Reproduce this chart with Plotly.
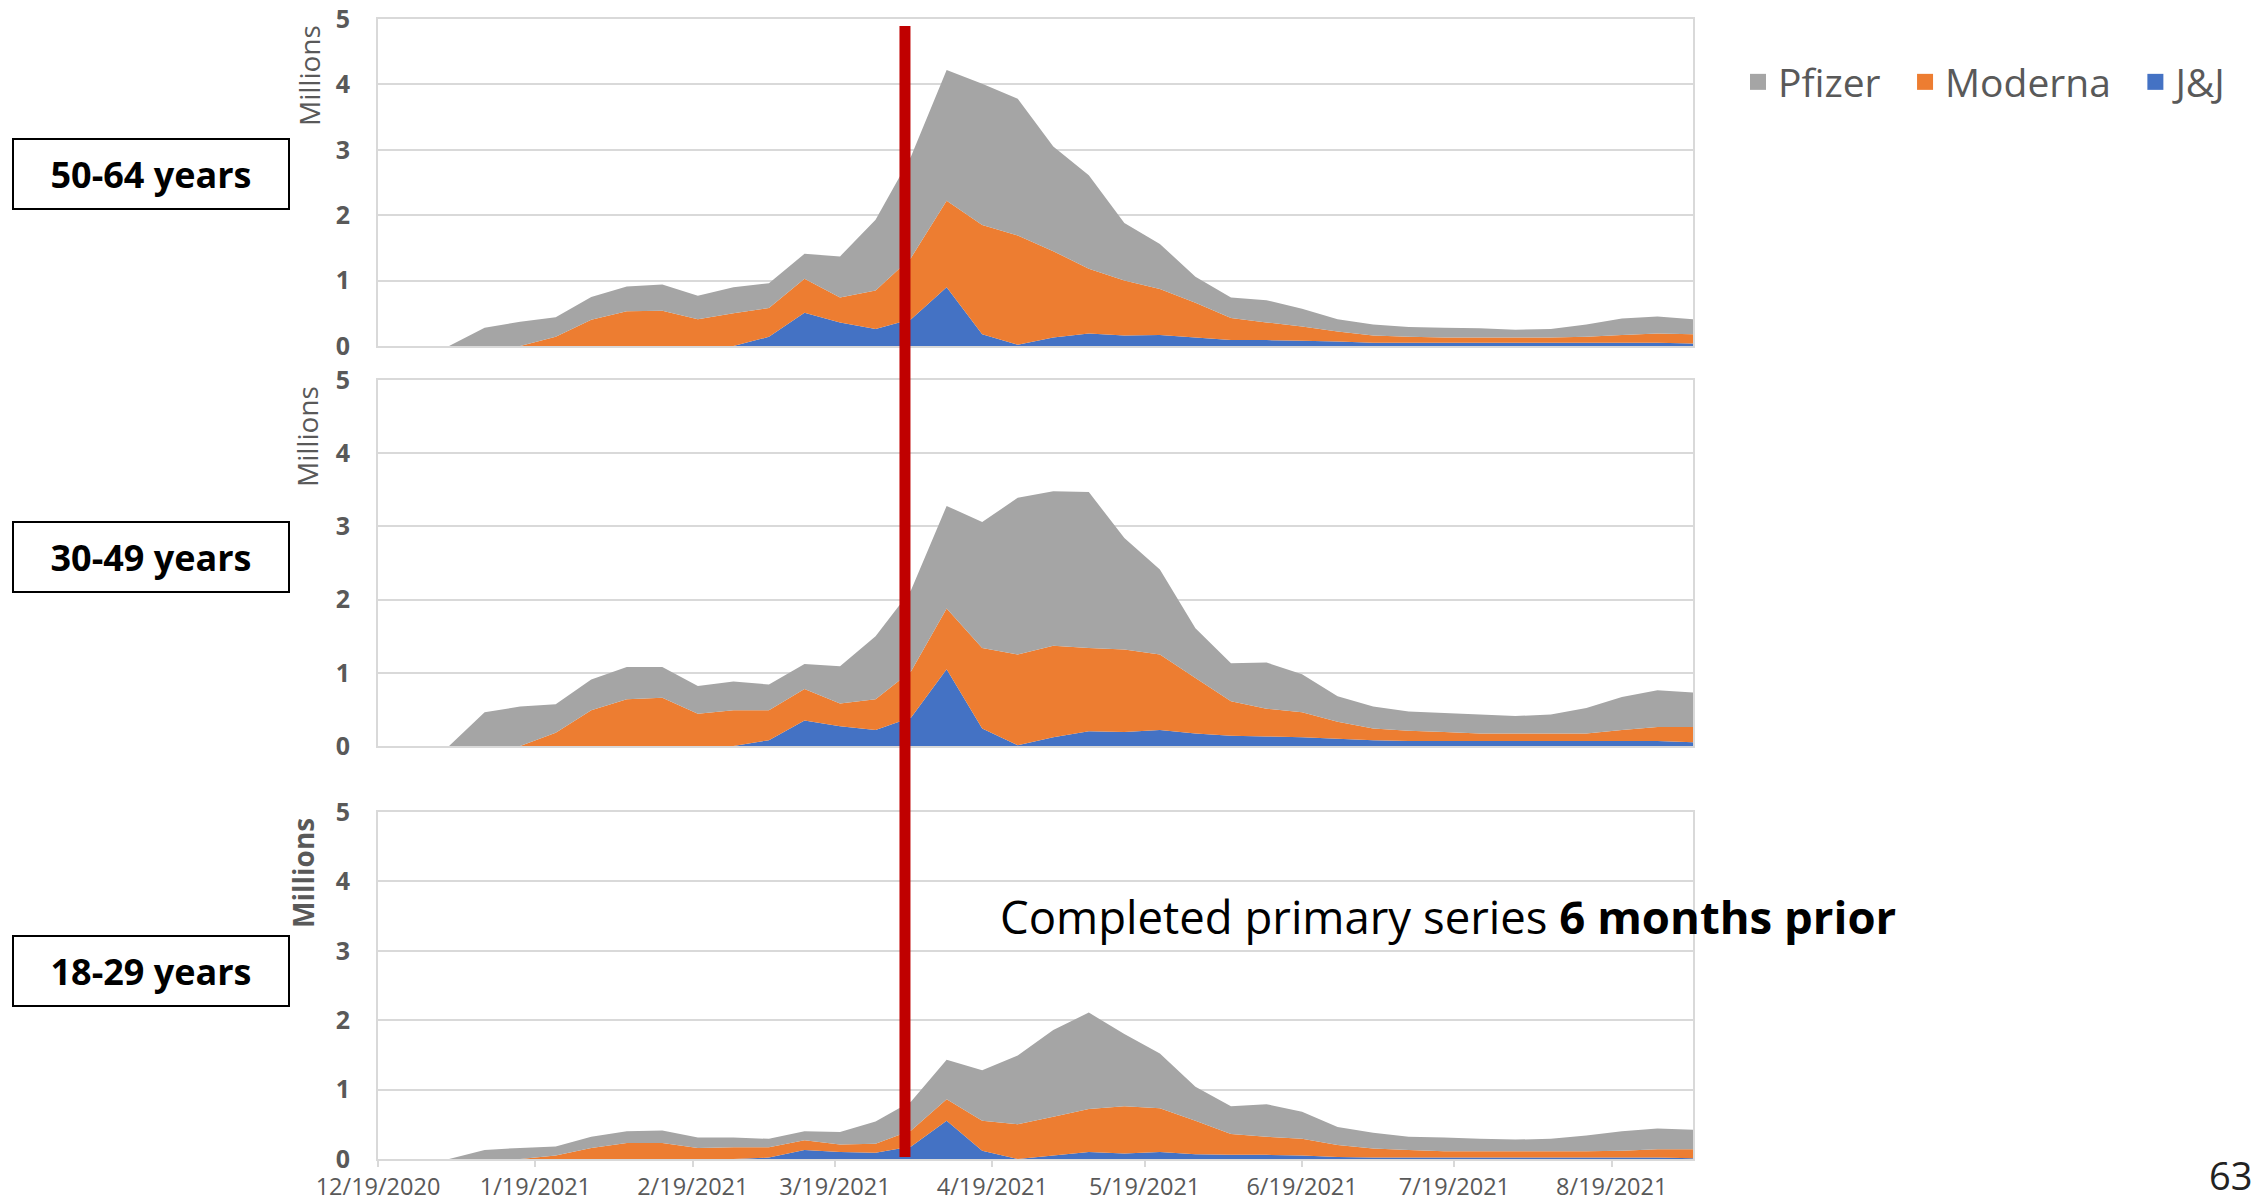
import plotly.graph_objects as go

# ---------------- data ----------------
dates = ["2020-12-19", "2020-12-26", "2021-01-02", "2021-01-09", "2021-01-16", "2021-01-23",
         "2021-01-30", "2021-02-06", "2021-02-13", "2021-02-20", "2021-02-27", "2021-03-06",
         "2021-03-13", "2021-03-20", "2021-03-27", "2021-04-03", "2021-04-10", "2021-04-17",
         "2021-04-24", "2021-05-01", "2021-05-08", "2021-05-15", "2021-05-22", "2021-05-29",
         "2021-06-05", "2021-06-12", "2021-06-19", "2021-06-26", "2021-07-03", "2021-07-10",
         "2021-07-17", "2021-07-24", "2021-07-31", "2021-08-07", "2021-08-14", "2021-08-21",
         "2021-08-28", "2021-09-04"]

# 50-64 years (millions)
pfizer_50_64 = [0, 0, 0, 0.28, 0.37, 0.30, 0.35, 0.38, 0.40, 0.36, 0.40, 0.38, 0.38, 0.63, 1.08,
                1.55, 2.00, 2.16, 2.09, 1.60, 1.43, 0.88, 0.69, 0.40, 0.31, 0.34, 0.27, 0.19,
                0.17, 0.15, 0.15, 0.14, 0.12, 0.13, 0.19, 0.25, 0.26, 0.23]
moderna_50_64 = [0, 0, 0, 0, 0, 0.14, 0.40, 0.53, 0.54, 0.41, 0.50, 0.44, 0.52, 0.38, 0.59,
                 0.94, 1.32, 1.67, 1.67, 1.32, 0.99, 0.84, 0.70, 0.53, 0.34, 0.27, 0.22, 0.15,
                 0.11, 0.09, 0.08, 0.08, 0.08, 0.08, 0.09, 0.12, 0.14, 0.14]
jj_50_64 = [0, 0, 0, 0, 0, 0, 0, 0, 0, 0, 0, 0.14, 0.51, 0.36, 0.26, 0.41, 0.90, 0.18, 0.02,
            0.13, 0.19, 0.16, 0.17, 0.13, 0.09, 0.09, 0.08, 0.07, 0.05, 0.05, 0.05, 0.05, 0.05,
            0.05, 0.05, 0.05, 0.05, 0.04]

# 30-49 years (millions)
pfizer_30_49 = [0, 0, 0, 0.46, 0.54, 0.39, 0.42, 0.44, 0.42, 0.38, 0.39, 0.35, 0.34, 0.51, 0.86,
                1.11, 1.40, 1.72, 2.14, 2.11, 2.13, 1.52, 1.16, 0.68, 0.52, 0.63, 0.52, 0.35,
                0.30, 0.26, 0.26, 0.26, 0.24, 0.26, 0.35, 0.45, 0.50, 0.47]
moderna_30_49 = [0, 0, 0, 0, 0, 0.18, 0.49, 0.64, 0.66, 0.44, 0.49, 0.41, 0.43, 0.31, 0.42,
                 0.63, 0.83, 1.10, 1.24, 1.25, 1.14, 1.13, 1.03, 0.76, 0.47, 0.38, 0.34, 0.23,
                 0.16, 0.14, 0.12, 0.10, 0.10, 0.10, 0.10, 0.15, 0.19, 0.21]
jj_30_49 = [0, 0, 0, 0, 0, 0, 0, 0, 0, 0, 0, 0.08, 0.35, 0.27, 0.22, 0.39, 1.05, 0.24, 0.01,
            0.12, 0.20, 0.19, 0.22, 0.17, 0.14, 0.13, 0.12, 0.10, 0.08, 0.07, 0.07, 0.07, 0.07,
            0.07, 0.07, 0.07, 0.07, 0.05]

# 18-29 years (millions)
pfizer_18_29 = [0, 0, 0, 0.13, 0.16, 0.13, 0.16, 0.17, 0.18, 0.15, 0.14, 0.12, 0.13, 0.18, 0.32,
                0.42, 0.57, 0.73, 0.99, 1.25, 1.39, 1.04, 0.79, 0.49, 0.40, 0.47, 0.39, 0.26,
                0.23, 0.19, 0.20, 0.18, 0.17, 0.18, 0.23, 0.28, 0.30, 0.28]
moderna_18_29 = [0, 0, 0, 0, 0, 0.05, 0.16, 0.23, 0.23, 0.16, 0.17, 0.15, 0.14, 0.11, 0.13,
                 0.23, 0.31, 0.43, 0.50, 0.56, 0.62, 0.68, 0.63, 0.48, 0.30, 0.26, 0.24, 0.17,
                 0.13, 0.11, 0.09, 0.09, 0.09, 0.09, 0.09, 0.10, 0.12, 0.13]
jj_18_29 = [0, 0, 0, 0, 0, 0, 0, 0, 0, 0, 0, 0.02, 0.13, 0.10, 0.09, 0.18, 0.55, 0.12, 0.0,
            0.05, 0.10, 0.08, 0.10, 0.07, 0.06, 0.06, 0.05, 0.03, 0.02, 0.02, 0.02, 0.02, 0.02,
            0.02, 0.02, 0.02, 0.02, 0.01]

panel_labels = ["50-64 years", "30-49 years", "18-29 years"]
series_names = ["Pfizer", "Moderna", "J&J"]
tick_dates = ["2020-12-19", "2021-01-19", "2021-02-19", "2021-03-19", "2021-04-19",
              "2021-05-19", "2021-06-19", "2021-07-19", "2021-08-19"]
tick_text = ["12/19/2020", "1/19/2021", "2/19/2021", "3/19/2021", "4/19/2021",
             "5/19/2021", "6/19/2021", "7/19/2021", "8/19/2021"]
y_ticks = [0, 1, 2, 3, 4, 5]
cutoff_date = "2021-04-01 19:00"

# ---------------- styles / geometry (screen pixels) ----------------
FONT = "Open Sans"
COLORS = {"Pfizer": "#A5A5A5", "Moderna": "#ED7D31", "J&J": "#4472C4"}
GRID = "#D9D9D9"
TXT = "#595959"

OFF = 8                      # default page body margin of the html page
SCREEN_W, SCREEN_H = 2263, 1202
W, H = SCREEN_W - OFF, SCREEN_H - OFF
PLOT_L, PLOT_R, PLOT_T, PLOT_B = 378, 1693, 19, 1159   # screen px
ML = PLOT_L - OFF
MT = PLOT_T - OFF
MR = W - (PLOT_R - OFF)
MB = H - (PLOT_B - OFF)
plot_w = W - ML - MR
plot_h = H - MT - MB

panels = [
    (pfizer_50_64, moderna_50_64, jj_50_64),
    (pfizer_30_49, moderna_30_49, jj_30_49),
    (pfizer_18_29, moderna_18_29, jj_18_29),
]
panel_px = [(19, 346), (380, 746), (812, 1159)]   # screen px (top, bottom)


def py(pix):
    return 1 - (pix - PLOT_T) / plot_h


def px(pix):
    return (pix - PLOT_L) / plot_w


fig = go.Figure()

for i, (pf, mo, jj) in enumerate(panels):
    ax = "" if i == 0 else str(i + 1)
    for name, vals in (("J&J", jj), ("Moderna", mo), ("Pfizer", pf)):
        fig.add_trace(go.Scatter(
            x=dates, y=vals, name=name, stackgroup=f"s{i}", mode="none",
            fillcolor=COLORS[name], line=dict(width=0), showlegend=False,
            xaxis="x" + ax, yaxis="y" + ax, hoverinfo="x+y+name"))

# legend entries (en-space pads the gap between entries like the original)
legend_labels = {"Pfizer": "Pfizer\u2002", "Moderna": "Moderna\u2002", "J&J": "J&J"}
for name in series_names:
    fig.add_trace(go.Scatter(
        x=[None], y=[None], mode="markers", name=legend_labels[name],
        marker=dict(symbol="square", size=24, color=COLORS[name]),
        showlegend=True))

layout = dict(
    width=W, height=H,
    margin=dict(l=ML, r=MR, t=MT, b=MB, pad=0, autoexpand=False),
    paper_bgcolor="white", plot_bgcolor="white",
    font=dict(family=FONT, color=TXT),
    legend=dict(orientation="h", x=px(1738), y=py(82),
                xanchor="left", yanchor="middle", itemsizing="trace",
                traceorder="normal",
                font=dict(size=39, color=TXT, family=FONT), bgcolor="rgba(0,0,0,0)"),
    showlegend=True,
)

for i in range(3):
    ax = "" if i == 0 else str(i + 1)
    top, bot = panel_px[i]
    layout["xaxis" + ax] = dict(
        domain=[0, 1], anchor="y" + ax, type="date",
        range=[dates[0], dates[-1]],
        tickvals=tick_dates, ticktext=tick_text,
        showticklabels=(i == 2),
        ticks="outside" if i == 2 else "", ticklen=6, tickcolor=GRID, tickwidth=2,
        ticklabelstandoff=0, ticklabeloverflow="allow",
        tickfont=dict(size=23.5, color=TXT, family=FONT),
        showgrid=False, zeroline=False,
        showline=True, linecolor=GRID, linewidth=2, mirror=True,
    )
    if i > 0:
        layout["xaxis" + ax]["matches"] = "x"
    layout["yaxis" + ax] = dict(
        domain=[py(bot), py(top)], anchor="x" + ax,
        range=[0, 5], tickvals=y_ticks,
        tickfont=dict(size=25, color=TXT, family=FONT, weight="bold"),
        ticklabelstandoff=21, ticklabeloverflow="allow",
        showgrid=True, gridcolor=GRID, gridwidth=2, zeroline=False,
        showline=True, linecolor=GRID, linewidth=2, mirror=True, ticks="",
    )

fig.update_layout(**layout)

annotations = []
# "Millions" display-unit labels
millions_pos = [(309, 76, False), (307, 437, False), (303, 873, True)]
for xp, yp, bold in millions_pos:
    annotations.append(dict(
        text="<b>Millions</b>" if bold else "Millions", textangle=-90,
        xref="paper", yref="paper", x=px(xp), y=py(yp),
        xanchor="center", yanchor="middle", showarrow=False,
        font=dict(size=28, color=TXT, family=FONT)))

# age-group boxes
box_centers = [174, 557, 971]
for lab, yc in zip(panel_labels, box_centers):
    annotations.append(dict(
        text=f"<b>{lab}</b>", xref="paper", yref="paper",
        x=px(150.5), y=py(yc), xanchor="center", yanchor="middle",
        showarrow=False, width=274, height=68, borderpad=0,
        bordercolor="black", borderwidth=2, bgcolor="white",
        font=dict(size=36, color="black", family=FONT)))

# cutoff annotation text
annotations.append(dict(
    text="Completed primary series <b>6 months prior</b>",
    xref="paper", yref="paper", x=px(998), y=py(916),
    xanchor="left", yanchor="middle", showarrow=False,
    font=dict(size=45.5, color="black", family=FONT)))

# slide number
annotations.append(dict(
    text="63", xref="paper", yref="paper", x=px(2254), y=py(1175),
    xanchor="right", yanchor="middle", showarrow=False,
    font=dict(size=38, color="#222222", family=FONT)))

fig.update_layout(annotations=annotations)

# red cutoff line spanning all panels
fig.add_shape(type="line", xref="x", yref="paper",
              x0=cutoff_date, x1=cutoff_date, y0=py(1157), y1=py(26),
              line=dict(color="#C00000", width=11), layer="above")

fig.write_html("out.html")
